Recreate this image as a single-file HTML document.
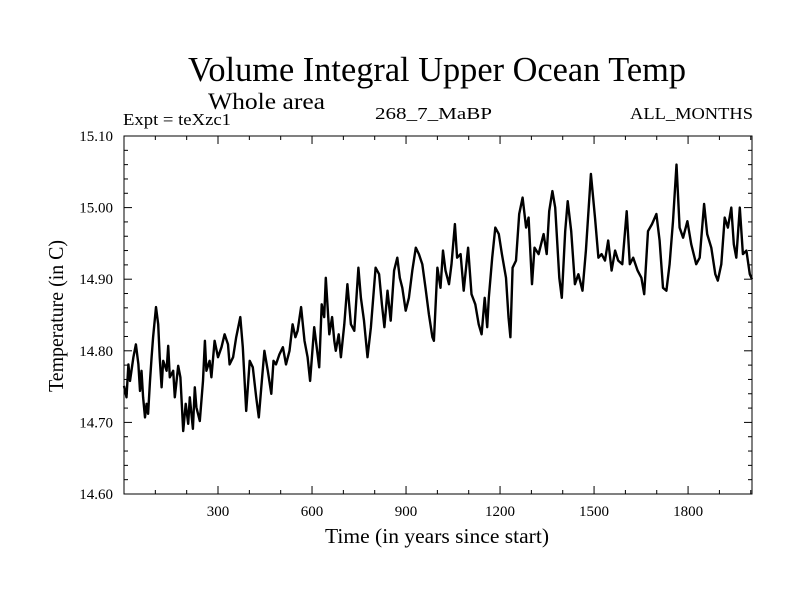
<!DOCTYPE html>
<html><head><meta charset="utf-8"><style>
html,body{margin:0;padding:0;background:#fff;}
svg{display:block;font-family:"Liberation Serif",serif;}
</style></head><body>
<svg id="chart" width="800" height="600" viewBox="0 0 800 600">
<rect width="800" height="600" fill="#fff"/>
<text x="437" y="81" font-size="35" text-anchor="middle" textLength="498" lengthAdjust="spacingAndGlyphs">Volume Integral Upper Ocean Temp</text>
<text x="208" y="109" font-size="23" textLength="117" lengthAdjust="spacingAndGlyphs">Whole area</text>
<text x="123" y="125" font-size="17" textLength="108" lengthAdjust="spacingAndGlyphs">Expt = teXzc1</text>
<text x="375" y="119" font-size="17" textLength="117" lengthAdjust="spacingAndGlyphs">268_7_MaBP</text>
<text x="753" y="119" font-size="17" text-anchor="end" textLength="123" lengthAdjust="spacingAndGlyphs">ALL_MONTHS</text>
<text x="437" y="543" font-size="21" text-anchor="middle" textLength="224" lengthAdjust="spacingAndGlyphs">Time (in years since start)</text>
<text transform="translate(63,316) rotate(-90)" font-size="21" text-anchor="middle" textLength="152" lengthAdjust="spacingAndGlyphs">Temperature (in C)</text>
<g id="axes"></g>
<g id="series"></g>
</svg>
<script>
const years=[0,8,14,19,30,38,46,51,56,61,67,72,77,83,88,93,102,109,114,120,125,136,141,146,157,162,173,180,189,197,205,210,220,226,231,242,252,258,263,273,279,289,300,311,321,332,337,348,358,371,379,390,401,411,422,430,438,448,459,470,477,485,496,507,517,528,538,547,554,565,576,586,594,607,615,623,631,639,644,655,664,671,676,685,692,703,713,724,735,748,756,766,777,788,803,814,823,831,841,851,862,872,880,888,899,909,920,931,941,952,962,973,984,989,1000,1010,1018,1026,1037,1045,1056,1063,1074,1084,1098,1109,1121,1132,1141,1151,1159,1164,1175,1185,1196,1206,1219,1227,1233,1240,1251,1261,1272,1283,1291,1302,1310,1323,1339,1349,1357,1367,1376,1389,1397,1408,1416,1427,1439,1450,1463,1474,1490,1503,1514,1524,1535,1545,1556,1567,1577,1590,1604,1614,1625,1639,1651,1660,1672,1685,1699,1709,1720,1731,1741,1752,1763,1773,1784,1798,1810,1826,1837,1851,1861,1874,1887,1895,1906,1917,1927,1938,1946,1954,1965,1975,1986,1997,2004];
const temps=[14.751,14.735,14.781,14.758,14.791,14.809,14.781,14.744,14.772,14.735,14.707,14.726,14.712,14.758,14.791,14.819,14.861,14.837,14.791,14.749,14.786,14.772,14.807,14.763,14.772,14.735,14.779,14.763,14.688,14.726,14.698,14.735,14.691,14.749,14.721,14.702,14.758,14.814,14.772,14.786,14.763,14.814,14.791,14.805,14.823,14.809,14.781,14.791,14.819,14.847,14.805,14.716,14.786,14.777,14.735,14.707,14.749,14.800,14.772,14.740,14.786,14.781,14.795,14.805,14.781,14.800,14.837,14.819,14.828,14.861,14.814,14.791,14.758,14.833,14.805,14.777,14.865,14.847,14.902,14.823,14.847,14.814,14.800,14.823,14.791,14.837,14.893,14.837,14.828,14.916,14.874,14.842,14.791,14.833,14.916,14.907,14.865,14.833,14.884,14.842,14.912,14.930,14.902,14.888,14.856,14.874,14.912,14.944,14.935,14.921,14.888,14.851,14.819,14.814,14.916,14.888,14.940,14.912,14.893,14.921,14.977,14.930,14.935,14.884,14.944,14.879,14.865,14.837,14.823,14.874,14.833,14.874,14.930,14.972,14.963,14.935,14.902,14.847,14.819,14.916,14.926,14.991,15.014,14.972,14.986,14.893,14.944,14.935,14.963,14.935,14.995,15.023,15.000,14.902,14.874,14.967,15.009,14.967,14.893,14.907,14.884,14.940,15.047,14.986,14.930,14.935,14.926,14.954,14.912,14.940,14.926,14.921,14.995,14.921,14.930,14.912,14.902,14.879,14.967,14.977,14.991,14.954,14.888,14.884,14.921,14.981,15.060,14.972,14.958,14.981,14.949,14.921,14.930,15.005,14.963,14.944,14.907,14.898,14.921,14.986,14.972,15.000,14.949,14.930,15.000,14.935,14.940,14.907,14.900];
const xTickLabels=["300","600","900","1200","1500","1800"];
const yTickLabels=["14.60","14.70","14.80","14.90","15.00","15.10"];

const L=124,R=752,T=136,B=494,XMIN=0,XMAX=2004,YMIN=14.6,YMAX=15.1;
function xs(v){return L+(v-XMIN)/(XMAX-XMIN)*(R-L);}
function ys(v){return B-(v-YMIN)/(YMAX-YMIN)*(B-T);}
const NS="http://www.w3.org/2000/svg";
const axes=document.getElementById('axes');
function ln(x1,y1,x2,y2,name){const e=document.createElementNS(NS,'line');
e.setAttribute('x1',x1);e.setAttribute('y1',y1);e.setAttribute('x2',x2);e.setAttribute('y2',y2);
e.setAttribute('stroke','#000');e.setAttribute('stroke-width','1');


axes.appendChild(e);return e;}
const frame=document.createElementNS(NS,'rect');
frame.setAttribute('x',L);frame.setAttribute('y',T);frame.setAttribute('width',R-L);frame.setAttribute('height',B-T);
frame.setAttribute('fill','none');frame.setAttribute('stroke','#000');


axes.appendChild(frame);
for(let v=100;v<XMAX;v+=100){const x=xs(v);const len=(v%300===0)?8:4;
ln(x,B,x,B-len,'x-tick');ln(x,T,x,T+len,'x-tick-top');}
for(let i=1;i<25;i++){const v=YMIN+i*0.02;const y=ys(v);const len=(i%5===0)?8:4;
ln(L,y,L+len,y,'y-tick');ln(R,y,R-len,y,'y-tick-right');}
xTickLabels.forEach(s=>{const t=document.createElementNS(NS,'text');
t.setAttribute('x',xs(parseFloat(s)));t.setAttribute('y',516);t.setAttribute('font-size','15');t.setAttribute('text-anchor','middle');
t.textContent=s;


axes.appendChild(t);});
yTickLabels.forEach(s=>{const t=document.createElementNS(NS,'text');
t.setAttribute('x',113);t.setAttribute('y',ys(parseFloat(s))+5);t.setAttribute('font-size','15');t.setAttribute('text-anchor','end');
t.textContent=s;


axes.appendChild(t);});
const p=document.createElementNS(NS,'polyline');
p.setAttribute('points',years.map((y,i)=>xs(y).toFixed(1)+','+ys(temps[i]).toFixed(1)).join(' '));
p.setAttribute('fill','none');p.setAttribute('stroke','#000');p.setAttribute('stroke-width','2.4');p.setAttribute('stroke-linejoin','round');


document.getElementById('series').appendChild(p);
</script>
</body></html>
